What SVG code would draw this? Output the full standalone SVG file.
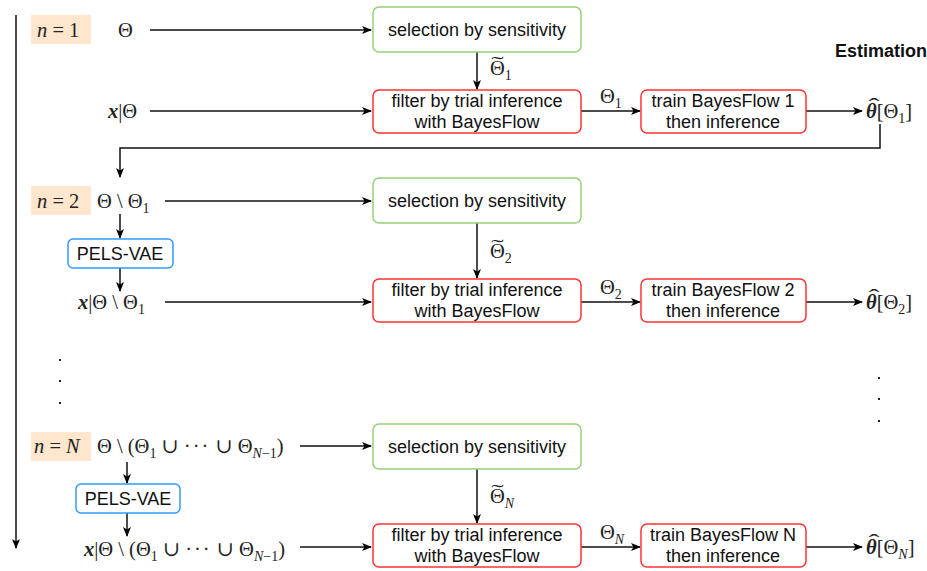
<svg xmlns="http://www.w3.org/2000/svg" width="927" height="571" viewBox="0 0 927 571">
<style>
.box{fill:#fff;stroke-width:1.5}
.g{stroke:#97d077}.r{stroke:#ff3333}.b{stroke:#3399ff}
.t{font-family:"Liberation Sans",Arial,sans-serif;font-size:18px;fill:#111;text-anchor:middle}
.m{font-family:"Liberation Serif","DejaVu Serif",serif;font-size:20.5px;fill:#222}
.acc{font-family:"Liberation Serif","DejaVu Serif",serif;font-size:22px;fill:#222;text-anchor:middle}
.it{font-style:italic}
.bi{font-style:italic;font-weight:bold}
.s{font-size:14px}
.hl{fill:#ffe6cc}
.c{fill:none;stroke:#111;stroke-width:1.5}
.dot{fill:#222}
</style>
<defs>
<marker id="a" viewBox="0 0 10 8" refX="9" refY="4" markerWidth="10" markerHeight="8" markerUnits="userSpaceOnUse" orient="auto">
<path d="M0,0 L10,4 L0,8 L2.5,4 z" fill="#000"/>
</marker>
</defs>

<g id="connectors">
<path class="c" d="M16,15 V548" stroke="#333" stroke-width="2" marker-end="url(#a)"/>
<path class="c" d="M150,30 H371" marker-end="url(#a)"/>
<path class="c" d="M150,111 H371" marker-end="url(#a)"/>
<path class="c" d="M477,52 V89" marker-end="url(#a)"/>
<path class="c" d="M581,111 H640" marker-end="url(#a)"/>
<path class="c" d="M806,111 H862" marker-end="url(#a)"/>
<path class="c" d="M880,124 V148 H120 V177" marker-end="url(#a)"/>

<path class="c" d="M165,201 H371" marker-end="url(#a)"/>
<path class="c" d="M120,214 V238" marker-end="url(#a)"/>
<path class="c" d="M120,268 V291" marker-end="url(#a)"/>
<path class="c" d="M165,302 H371" marker-end="url(#a)"/>
<path class="c" d="M477,223 V278" marker-end="url(#a)"/>
<path class="c" d="M581,302 H640" marker-end="url(#a)"/>
<path class="c" d="M806,302 H862" marker-end="url(#a)"/>

<path class="c" d="M300,446 H371" marker-end="url(#a)"/>
<path class="c" d="M127,462 V483" marker-end="url(#a)"/>
<path class="c" d="M127,513 V536" marker-end="url(#a)"/>
<path class="c" d="M300,547 H371" marker-end="url(#a)"/>
<path class="c" d="M477,469 V523" marker-end="url(#a)"/>
<path class="c" d="M581,547 H640" marker-end="url(#a)"/>
<path class="c" d="M806,547 H862" marker-end="url(#a)"/>
</g>

<g id="n1">
<rect class="hl" x="31" y="15" width="60" height="29"/>
<text class="m" x="37" y="37"><tspan class="it">n</tspan> = 1</text>
</g>
<g id="theta1"><text class="m" x="118" y="37">Θ</text></g>
<g id="xtheta1"><text class="m" x="108" y="118"><tspan class="bi">x</tspan>|Θ</text></g>
<g id="sel1">
<rect class="box g" x="373" y="7" width="208" height="45" rx="6"/>
<text class="t" x="477" y="36">selection by sensitivity</text>
</g>
<g id="lbl-tilde1">
<text class="m" x="490" y="75">Θ<tspan class="s" dy="5">1</tspan></text>
<text class="acc" transform="translate(497.5,71) scale(1.7,1)">˜</text>
</g>
<g id="filt1">
<rect class="box r" x="373" y="90" width="208" height="43" rx="6"/>
<text class="t" x="477" y="107">filter by trial inference</text>
<text class="t" x="477" y="128">with BayesFlow</text>
</g>
<g id="lbl1"><text class="m" x="600" y="103">Θ<tspan class="s" dy="5">1</tspan></text></g>
<g id="train1">
<rect class="box r" x="641" y="90" width="165" height="43" rx="6"/>
<text class="t" x="723" y="107">train BayesFlow 1</text>
<text class="t" x="723" y="128">then inference</text>
</g>
<g id="est1">
<text class="m" x="866" y="118"><tspan class="bi">θ</tspan>[Θ<tspan class="s" dy="5">1</tspan><tspan dy="-5">]</tspan></text>
<text class="acc" transform="translate(874,112.5) scale(1.5,1)">ˆ</text>
</g>
<g id="estimation"><text x="835" y="57" font-family="Liberation Sans,Arial,sans-serif" font-size="18" font-weight="bold" fill="#111">Estimation</text></g>

<g id="n2">
<rect class="hl" x="31" y="186" width="60" height="29"/>
<text class="m" x="37" y="208"><tspan class="it">n</tspan> = 2</text>
</g>
<g id="theta2"><text class="m" x="97" y="208">Θ \ Θ<tspan class="s" dy="5">1</tspan></text></g>
<g id="vae2">
<rect class="box b" x="68" y="239" width="105" height="29" rx="5"/>
<text class="t" x="120" y="260">PELS-VAE</text>
</g>
<g id="xtheta2"><text class="m" x="78" y="309"><tspan class="bi">x</tspan>|Θ \ Θ<tspan class="s" dy="5">1</tspan></text></g>
<g id="sel2">
<rect class="box g" x="373" y="178" width="208" height="45" rx="6"/>
<text class="t" x="477" y="207">selection by sensitivity</text>
</g>
<g id="lbl-tilde2">
<text class="m" x="490" y="258">Θ<tspan class="s" dy="5">2</tspan></text>
<text class="acc" transform="translate(497.5,254) scale(1.7,1)">˜</text>
</g>
<g id="filt2">
<rect class="box r" x="373" y="279" width="208" height="43" rx="6"/>
<text class="t" x="477" y="296">filter by trial inference</text>
<text class="t" x="477" y="317">with BayesFlow</text>
</g>
<g id="lbl2"><text class="m" x="600" y="294">Θ<tspan class="s" dy="5">2</tspan></text></g>
<g id="train2">
<rect class="box r" x="641" y="279" width="165" height="43" rx="6"/>
<text class="t" x="723" y="296">train BayesFlow 2</text>
<text class="t" x="723" y="317">then inference</text>
</g>
<g id="est2">
<text class="m" x="866" y="309"><tspan class="bi">θ</tspan>[Θ<tspan class="s" dy="5">2</tspan><tspan dy="-5">]</tspan></text>
<text class="acc" transform="translate(874,303.5) scale(1.5,1)">ˆ</text>
</g>

<g id="dots">
<rect class="dot" x="59" y="359" width="2" height="2"/>
<rect class="dot" x="59" y="380" width="2" height="2"/>
<rect class="dot" x="59" y="402" width="2" height="2"/>
<rect class="dot" x="878" y="377" width="2" height="2"/>
<rect class="dot" x="878" y="398" width="2" height="2"/>
<rect class="dot" x="878" y="420" width="2" height="2"/>
</g>

<g id="nN">
<rect class="hl" x="31" y="432" width="60" height="29"/>
<text class="m" x="34" y="453"><tspan class="it">n</tspan> = <tspan class="it">N</tspan></text>
</g>
<g id="thetaN"><text class="m" x="97" y="453">Θ \ (Θ<tspan class="s" dy="5">1</tspan><tspan dy="-5"> ∪ <tspan letter-spacing="2">···</tspan> ∪ Θ</tspan><tspan class="s it" dy="5">N</tspan><tspan class="s">−1</tspan><tspan dy="-5">)</tspan></text></g>
<g id="vaeN">
<rect class="box b" x="76" y="484" width="104" height="29" rx="5"/>
<text class="t" x="128" y="505">PELS-VAE</text>
</g>
<g id="xthetaN"><text class="m" x="84" y="556"><tspan class="bi">x</tspan>|Θ \ (Θ<tspan class="s" dy="5">1</tspan><tspan dy="-5"> ∪ <tspan letter-spacing="2">···</tspan> ∪ Θ</tspan><tspan class="s it" dy="5">N</tspan><tspan class="s">−1</tspan><tspan dy="-5">)</tspan></text></g>
<g id="selN">
<rect class="box g" x="373" y="424" width="208" height="45" rx="6"/>
<text class="t" x="477" y="453">selection by sensitivity</text>
</g>
<g id="lbl-tildeN">
<text class="m" x="490" y="503">Θ<tspan class="s it" dy="5">N</tspan></text>
<text class="acc" transform="translate(497.5,499) scale(1.7,1)">˜</text>
</g>
<g id="filtN">
<rect class="box r" x="373" y="524" width="208" height="43" rx="6"/>
<text class="t" x="477" y="541">filter by trial inference</text>
<text class="t" x="477" y="562">with BayesFlow</text>
</g>
<g id="lblN"><text class="m" x="600" y="539">Θ<tspan class="s it" dy="5">N</tspan></text></g>
<g id="trainN">
<rect class="box r" x="641" y="524" width="165" height="43" rx="6"/>
<text class="t" x="723" y="541">train BayesFlow N</text>
<text class="t" x="723" y="562">then inference</text>
</g>
<g id="estN">
<text class="m" x="866" y="554"><tspan class="bi">θ</tspan>[Θ<tspan class="s it" dy="5">N</tspan><tspan dy="-5">]</tspan></text>
<text class="acc" transform="translate(874,548.5) scale(1.5,1)">ˆ</text>
</g>
</svg>
